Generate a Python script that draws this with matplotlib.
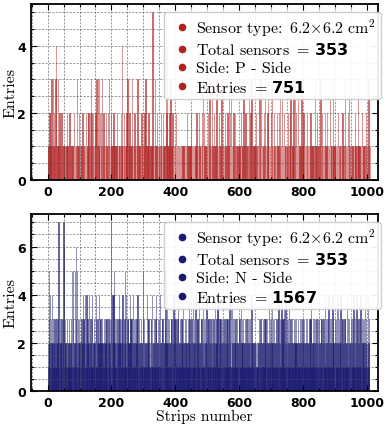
import numpy as np
import matplotlib
matplotlib.use('Agg')
import matplotlib.pyplot as plt
from matplotlib.ticker import MultipleLocator

# ---- data: entries per strip (strips 0..1023), one digit per strip ----
p_side_rows = [
    "0011012021 0130100310 1200130401 0103100210 0100201010 1001000101 2010",
    "1010020101 0100101020 0100101003 1001020100 1010020101 0100102001 0120",
    "2010120301 2010210100 1020030103 0130100201 2013010201 0010200101 0120",
    "1300102010 0100201010 0100102001 0101000201 0140100210 0010120030 1010",
    "1200100103 0100102010 0100103001 0010100020 1010010120 0300100101 2010",
    "1010010105 0100103010 0120010010 1000102001 0201001010 5020401001 0120",
    "1300101200 0100010020 0010100010 1000100101 0010101001 0002100100 0101",
    "1020010100 1001010120 0100102010 1010021030 0200100101 0100020013 0100",
    "1030010102 0100100301 0100120010 1003010100 0100210100 0120010300 2030",
    "0100102100 2010001010 1010010100 2001010030 0100210010 1000130100 2003",
    "1001010010 0120010100 1000301030 0100101200 1030100102 1300100100 2030",
    "1010020100 0100201001 2001030010 0300100201 0100010102 1000102300 0101",
    "1030100130 0201000301 0100100300 1001200010 0100210100 0100102001 0010",
    "0100030100 1020010100 0103000120 0100100201 0010200100 1003010100 0130",
    "1001010010 0100200010 1000100120 0100013001 0010200030 1000100101 0100",
    "1001210100 0130100101 0100200100 1001000120 0100130100 1000000000 0000",
]
n_side_rows = [
    "0021352140 3124120312 1230212132 0213712023 2120321032 7061232120 2312",
    "1220312123 2152035120 2521362052 1032312120 2132124031 3202412142 1302",
    "2141203212 1341202312 0213412132 1204121332 1213202131 2302131312 0213",
    "2120313702 1421412521 3123021302 2413212031 3124021213 5212412031 3202",
    "1241302312 1412031312 0231214120 3121213021 2135121312 0212141203 3121",
    "1203312141 2021312131 4120213120 3141212031 3120212135 2120412131 3021",
    "2130312021 4121302312 1203141212 1312031232 1412120312 3212131204 1302",
    "1213021412 3212141203 1232314121 2031312142 1213031202 4121313021 2131",
    "2031212130 2141202321 4141213021 3120312131 2031212130 2131213141 2041",
    "1412031312 0213121312 1203131214 1232021312 1213120312 1312031213 1204",
    "2120212021 2012101212 1213021312 1202131213 1213120312 1214021312 3214",
    "1213130212 1213021314 1203121314 1232131412 1412031213 1214121302 1312",
    "1213021232 3120213121 2131203121 3120213121 2131312021 2131203141 2123",
    "2131203121 3120312131 2021313120 2131214021 3120313141 2131203121 4123",
    "2120312131 4121413021 2141203131 2120313121 2141312031 2120312131 3141",
    "2131202141 3121302131 4120312131 2031412130 1214121300 0000000000 0000",
]
p_counts = np.array([int(c) for c in "".join(p_side_rows).replace(" ", "")])
n_counts = np.array([int(c) for c in "".join(n_side_rows).replace(" ", "")])
strips = np.arange(len(p_counts))

p_labels = [r"Sensor type: $\,6.2{\times}6.2$ cm$^2$",
            r"Total sensors $=\,\mathbf{353}$",
            r"Side: P - Side",
            r"Entries $=\,\mathbf{751}$"]
n_labels = [r"Sensor type: $\,6.2{\times}6.2$ cm$^2$",
            r"Total sensors $=\,\mathbf{353}$",
            r"Side: N - Side",
            r"Entries $=\,\mathbf{1567}$"]

plt.rcParams.update({
    'font.family': 'DejaVu Sans',
    'font.weight': 'bold',
    'mathtext.fontset': 'custom',
    'mathtext.rm': 'cmr10',
    'mathtext.it': 'cmmi10',
    'mathtext.bf': 'DejaVu Sans:bold',
    'mathtext.fallback': 'cm',
    'axes.unicode_minus': False,
})

W, H = 390, 431
fig = plt.figure(figsize=(W / 100, H / 100), dpi=100)

def px_axes(l, t, r, b):
    return fig.add_axes([l / W, 1 - b / H, (r - l) / W, (b - t) / H])

ax1 = px_axes(31, 5, 378, 181)
ax2 = px_axes(31, 215, 378, 392)

def style(ax, counts, color, labels):
    ax.bar(strips, counts, width=1.0, color=color, edgecolor=color,
           linewidth=0.5, alpha=0.68, zorder=1)
    ax.set_xlim(-52, 1035)
    ax.xaxis.set_major_locator(MultipleLocator(200))
    ax.xaxis.set_minor_locator(MultipleLocator(50))
    ax.yaxis.set_major_locator(MultipleLocator(2))
    ax.yaxis.set_minor_locator(MultipleLocator(0.5))
    ax.grid(which='both', linestyle=(0, (3, 2)), color='0.3', linewidth=0.5,
            alpha=0.8, zorder=2)
    ax.set_axisbelow(False)
    ax.tick_params(which='both', direction='in', top=True, right=True,
                   labelsize=9, width=0.8)
    ax.tick_params(which='major', length=4)
    ax.tick_params(which='minor', length=2)
    for sp in ax.spines.values():
        sp.set_linewidth(1.3)
    ax.set_ylabel('Entries', family='cmr10', fontsize=11.5, weight='normal',
                  labelpad=0)
    handles = [ax.plot([], [], 'o', color=color, markersize=4.5)[0]
               for _ in labels]
    leg = ax.legend(handles, labels, loc='upper right', numpoints=1,
                    bbox_to_anchor=(1.0086, 1 - 7.7 / 176), borderaxespad=0,
                    prop={'family': 'cmr10', 'size': 11.5, 'weight': 'normal'},
                    handlelength=1.65, handletextpad=0.05, framealpha=0.92,
                    labelspacing=0.22, borderpad=0.3)
    leg.set_zorder(5)

style(ax1, p_counts, '#b22222', p_labels)
style(ax2, n_counts, '#191970', n_labels)
ax2.set_xlabel('Strips number', family='cmr10', fontsize=11.2,
               weight='normal', labelpad=0)

fig.savefig('out.png', dpi=100)
